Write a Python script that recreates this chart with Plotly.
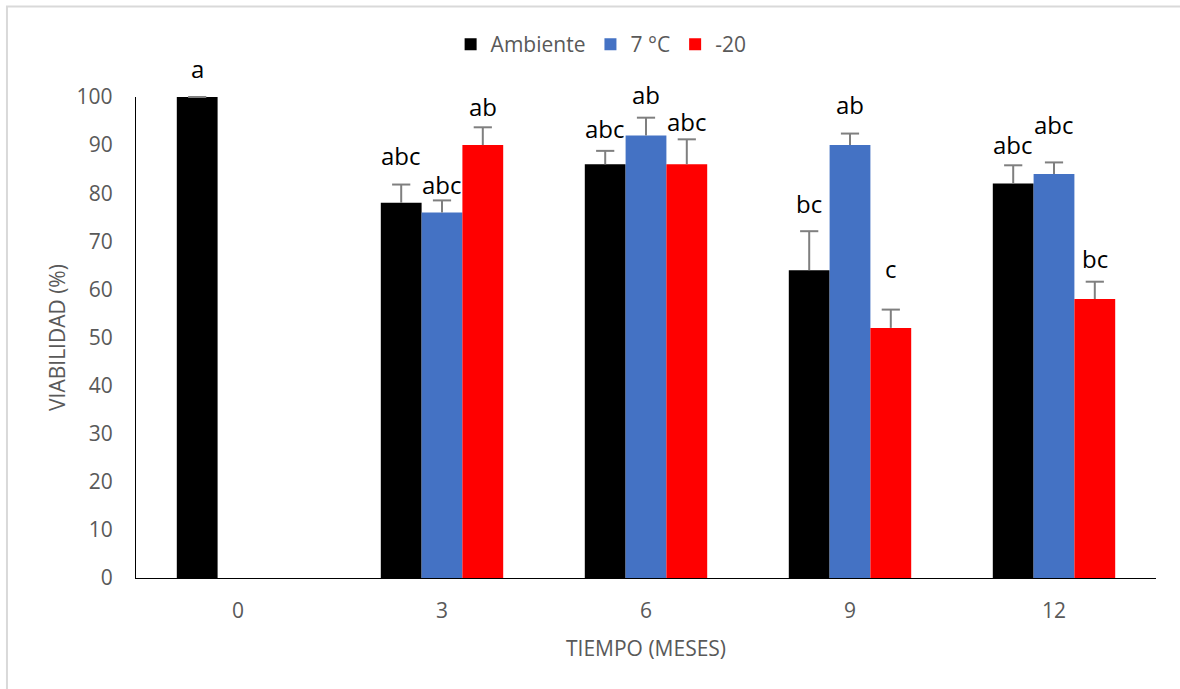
import plotly.graph_objects as go

# Storage time (months) on the x axis
meses = ["0", "3", "6", "9", "12"]

# Mean viability (%) per storage condition
ambiente = [100, 78, 86, 64, 82]
frio_7 = [None, 76, 92, 90, 84]
congelado_20 = [None, 90, 86, 52, 58]

# Upper error (standard error) per bar
err_ambiente = [0, 3.8, 2.8, 8.1, 3.8]
err_frio_7 = [None, 2.5, 3.7, 2.4, 2.4]
err_congelado_20 = [None, 3.7, 5.2, 3.8, 3.6]

# Significance letters above each bar
letras_ambiente = ["a", "abc", "abc", "bc", "abc"]
letras_frio_7 = [None, "abc", "ab", "ab", "abc"]
letras_congelado_20 = [None, "ab", "abc", "c", "bc"]

FONT = "Open Sans"
GRAY_TEXT = "#595959"
ERR_COLOR = "#7f7f7f"

series = [
    ("Ambiente", ambiente, err_ambiente, letras_ambiente, "#000000"),
    ("7 °C", frio_7, err_frio_7, letras_frio_7, "#4472C4"),
    ("-20", congelado_20, err_congelado_20, letras_congelado_20, "#FF0000"),
]

# pixel lift of each letter above its error cap
label_lift = [
    [29, 29, 22, 28, 21],
    [None, 16, 23, 29, 38],
    [None, 21, 18, 41, 23],
]

pos = list(range(len(meses)))
bar_w = 0.2  # each bar's width in category units (bargap 0.4, 3 bars)

fig = go.Figure()
for name, vals, errs, _, color in series:
    # bars with the upper whisker only (no caps)
    fig.add_trace(go.Bar(
        x=pos, y=vals, name=name,
        marker=dict(color=color, line=dict(width=0)),
        error_y=dict(type="data", symmetric=False, array=errs,
                     arrayminus=[0 if e is not None else None for e in errs],
                     color=ERR_COLOR, thickness=2, width=0),
        cliponaxis=False,
    ))

# caps at the top of each whisker
for j, (name, vals, errs, _, _) in enumerate(series):
    xs, ys = [], []
    for i, (v, e) in enumerate(zip(vals, errs)):
        if v is None or e is None:
            continue
        xs.append(i + (j - 1) * bar_w)
        ys.append(v + e)
    fig.add_trace(go.Scatter(
        x=xs, y=ys, mode="markers", showlegend=False, hoverinfo="skip",
        marker=dict(symbol="line-ew", size=13,
                    line=dict(color=ERR_COLOR, width=2)),
        cliponaxis=False,
    ))

annotations = []
for j, (name, vals, errs, letters, _) in enumerate(series):
    for i, (v, e, t) in enumerate(zip(vals, errs, letters)):
        if v is None or t is None:
            continue
        annotations.append(dict(
            x=i + (j - 1) * bar_w, y=v + (e or 0), xref="x", yref="y",
            text=t, showarrow=False, yanchor="middle", xanchor="center",
            yshift=label_lift[j][i],
            font=dict(family=FONT, size=24, color="#000000"),
        ))

# axis titles
annotations.append(dict(
    text="VIABILIDAD (%)", xref="paper", yref="paper", x=-0.0775, y=0.501,
    xanchor="center", yanchor="middle", textangle=-90, showarrow=False,
    font=dict(family=FONT, size=21, color=GRAY_TEXT)))
annotations.append(dict(
    text="TIEMPO (MESES)", xref="paper", yref="paper", x=0.5, y=-0.1447,
    xanchor="center", yanchor="middle", showarrow=False,
    font=dict(family=FONT, size=21, color=GRAY_TEXT)))

fig.update_layout(
    width=1180, height=689,
    margin=dict(l=136, r=24, t=97, b=111),
    paper_bgcolor="white", plot_bgcolor="white",
    barmode="group", bargap=0.4, bargroupgap=0,
    font=dict(family=FONT, size=21, color=GRAY_TEXT),
    showlegend=True,
    legend=dict(orientation="h", x=0.456, xanchor="center", y=1.109,
                yanchor="middle", font=dict(family=FONT, size=21, color=GRAY_TEXT),
                itemwidth=30, traceorder="normal"),
    annotations=annotations,
    shapes=[dict(type="rect", xref="paper", yref="paper",
                 x0=-0.1265, x1=1.2, y0=-0.4, y1=1.188,
                 line=dict(color="#d9d9d9", width=2), layer="below")],
    xaxis=dict(
        range=[-0.5, len(meses) - 0.5], tickmode="array",
        tickvals=pos, ticktext=meses,
        showline=True, linecolor="#000000", linewidth=1.3,
        ticks="", showgrid=False, zeroline=False, ticklabelstandoff=14,
        tickfont=dict(family=FONT, size=21, color=GRAY_TEXT),
    ),
    yaxis=dict(
        range=[0, 100], dtick=10, showline=True, linecolor="#000000",
        linewidth=1.3, ticks="", showgrid=False, zeroline=False,
        ticklabelstandoff=18,
        tickfont=dict(family=FONT, size=21, color=GRAY_TEXT),
    ),
)

fig.write_html("out.html")
